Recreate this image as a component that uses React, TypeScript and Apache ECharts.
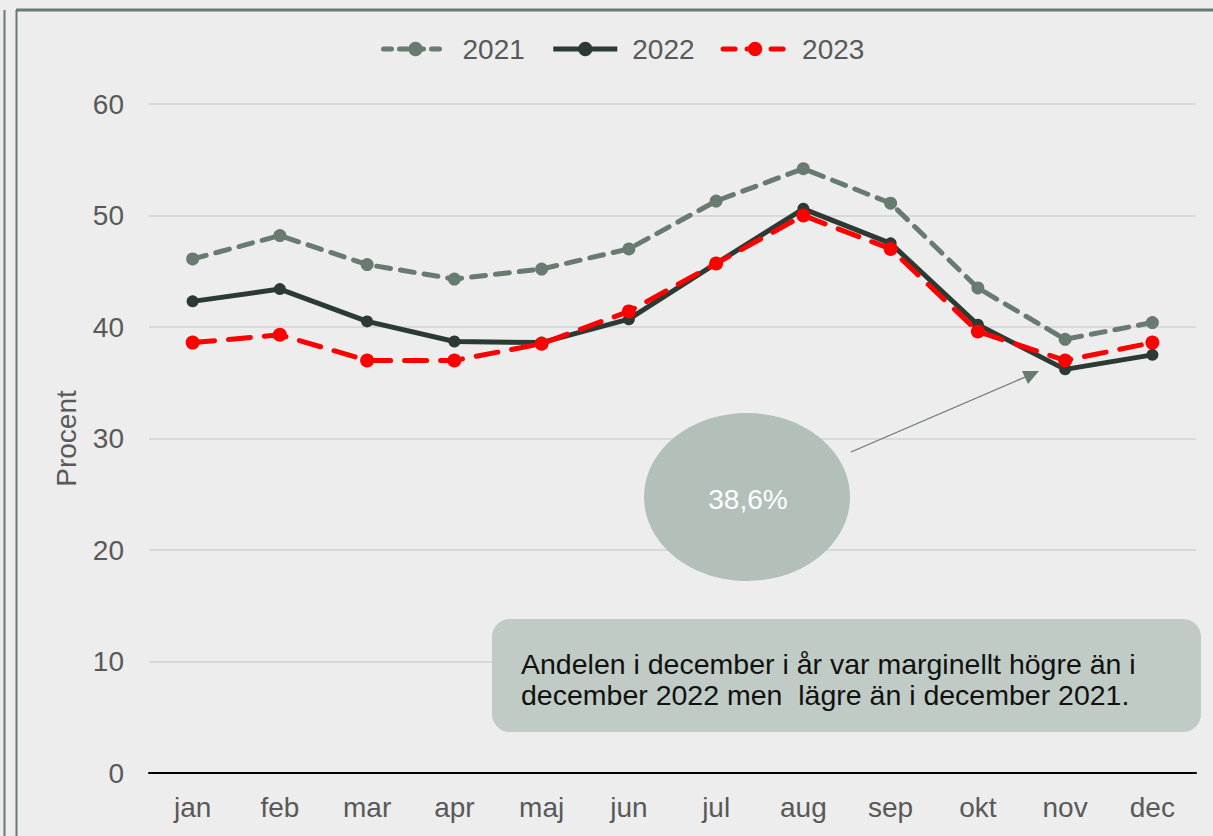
import React, { useEffect, useRef } from "react";
import * as echarts from "echarts";

const months = ["jan", "feb", "mar", "apr", "maj", "jun", "jul", "aug", "sep", "okt", "nov", "dec"];
const values2021 = [46.1, 48.2, 45.6, 44.3, 45.2, 47.0, 51.3, 54.2, 51.1, 43.5, 38.9, 40.4];
const values2022 = [42.3, 43.4, 40.5, 38.7, 38.6, 40.7, 45.7, 50.6, 47.5, 40.2, 36.2, 37.5];
const values2023 = [38.6, 39.3, 37.0, 37.0, 38.5, 41.4, 45.7, 50.0, 47.0, 39.6, 37.0, 38.6];
const yTicks = { min: 0, max: 60, interval: 10 };
const calloutValue = "38,6%";
const noteLines = [
  "Andelen i december i år var marginellt högre än i",
  "december 2022 men  lägre än i december 2021.",
];

const FONT = "'Liberation Sans', Arial, sans-serif";

export default function App() {
  const ref = useRef<HTMLDivElement>(null);
  useEffect(() => {
    if (!ref.current) return;
    const chart = echarts.init(ref.current, null, { renderer: "svg" });
    const c2021 = "#677B70";
    const c2022 = "#2B3A33";
    const c2023 = "#FF0000";
    const dash2021 = [14, 10];
    const dash2023 = [22, 14];
    chart.setOption({
      animation: false,
      backgroundColor: "#EDEDED",
      textStyle: { fontFamily: FONT },
      legend: {
        top: 30,
        left: 376,
        itemWidth: 64,
        itemHeight: 18,
        itemGap: 26,
        textStyle: { fontSize: 28, color: "#595959", fontFamily: FONT, padding: [0, 0, 0, 10] },
        lineStyle: { width: 5 },
        data: [
          { name: "2021", lineStyle: { width: 5, type: [8, 8], color: c2021 } },
          { name: "2022", lineStyle: { width: 5, color: c2022 } },
          { name: "2023", lineStyle: { width: 5, type: [12, 12], color: c2023 } },
        ],
      },
      grid: { left: 149, right: 17, top: 104, bottom: 63, containLabel: false },
      xAxis: {
        type: "category",
        data: months,
        boundaryGap: true,
        axisLine: { lineStyle: { color: "#000000", width: 2 } },
        axisTick: { show: false },
        axisLabel: { fontSize: 28, color: "#595959", margin: 20, fontFamily: FONT },
      },
      yAxis: {
        type: "value",
        min: yTicks.min,
        max: yTicks.max,
        interval: yTicks.interval,
        name: "Procent",
        nameLocation: "middle",
        nameGap: 69,
        nameTextStyle: { fontSize: 28, color: "#595959", fontFamily: FONT },
        axisLine: { show: false },
        axisTick: { show: false },
        axisLabel: { fontSize: 28, color: "#595959", margin: 25, fontFamily: FONT },
        splitLine: { lineStyle: { color: "#D9D9D9", width: 2 } },
      },
      series: [
        {
          name: "2021",
          type: "line",
          data: values2021,
          symbol: "circle",
          symbolSize: 13,
          z: 2,
          itemStyle: { color: c2021 },
          lineStyle: { color: c2021, width: 5, type: dash2021, cap: "round" },
        },
        {
          name: "2022",
          type: "line",
          data: values2022,
          symbol: "circle",
          symbolSize: 12,
          z: 3,
          itemStyle: { color: c2022 },
          lineStyle: { color: c2022, width: 5 },
        },
        {
          name: "2023",
          type: "line",
          data: values2023,
          symbol: "circle",
          symbolSize: 14,
          z: 4,
          itemStyle: { color: c2023 },
          lineStyle: { color: c2023, width: 5, type: dash2023, cap: "round" },
        },
      ],
      graphic: [
        { type: "line", shape: { x1: 4.5, y1: 10, x2: 4.5, y2: 836 }, style: { stroke: "#677B70", lineWidth: 2 }, z: 10 },
        { type: "line", shape: { x1: 16.5, y1: 10, x2: 16.5, y2: 836 }, style: { stroke: "#677B70", lineWidth: 2 }, z: 10 },
        { type: "line", shape: { x1: 16, y1: 10, x2: 1213, y2: 10 }, style: { stroke: "#677B70", lineWidth: 3 }, z: 10 },
        {
          type: "ellipse",
          shape: { cx: 747, cy: 497, rx: 103, ry: 84 },
          style: { fill: "#B2C0B9" },
          z: 20,
        },
        {
          type: "text",
          x: 748,
          y: 499,
          style: { text: calloutValue, fill: "#FFFFFF", fontSize: 28, fontFamily: FONT, align: "center", verticalAlign: "middle" },
          z: 21,
        },
        { type: "line", shape: { x1: 851, y1: 452, x2: 1030, y2: 375 }, style: { stroke: "#677B70", lineWidth: 1.2 }, z: 20 },
        {
          type: "polygon",
          shape: { points: [[1039, 371], [1022, 371], [1028, 384]] },
          style: { fill: "#677B70" },
          z: 20,
        },
        {
          type: "rect",
          shape: { x: 492, y: 619, width: 709, height: 113, r: 18 },
          style: { fill: "#C1CBC5" },
          z: 20,
        },
        {
          type: "text",
          x: 521,
          y: 664,
          style: { text: noteLines[0], fill: "#111111", fontSize: 28.5, fontFamily: FONT, verticalAlign: "middle" },
          z: 21,
        },
        {
          type: "text",
          x: 521,
          y: 695,
          style: { text: noteLines[1], fill: "#111111", fontSize: 28.5, fontFamily: FONT, verticalAlign: "middle" },
          z: 21,
        },
      ],
    });
    return () => chart.dispose();
  }, []);
  return <div ref={ref} style={{ position: "absolute", left: 0, top: 0, width: 1213, height: 836 }} />;
}
